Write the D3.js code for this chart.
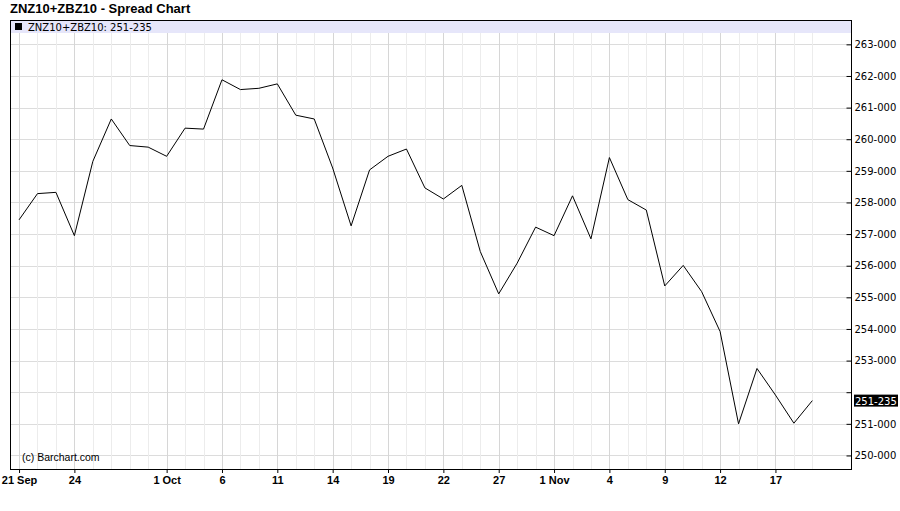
<!DOCTYPE html>
<html><head><meta charset="utf-8">
<script src="https://cdn.jsdelivr.net/npm/d3@7"></script>
<style>body{margin:0;background:#fff;}svg{display:block;}</style>
</head><body>
<svg id="chart" width="900" height="511"></svg>
<script>
const dates = ["2010-09-21","2010-09-22","2010-09-23","2010-09-24","2010-09-27","2010-09-28","2010-09-29","2010-09-30",
"2010-10-01","2010-10-04","2010-10-05","2010-10-06","2010-10-07","2010-10-08","2010-10-11","2010-10-12","2010-10-13",
"2010-10-14","2010-10-15","2010-10-18","2010-10-19","2010-10-20","2010-10-21","2010-10-22","2010-10-25","2010-10-26",
"2010-10-27","2010-10-28","2010-10-29","2010-11-01","2010-11-02","2010-11-03","2010-11-04","2010-11-05","2010-11-08",
"2010-11-09","2010-11-10","2010-11-11","2010-11-12","2010-11-15","2010-11-16","2010-11-17","2010-11-18","2010-11-19"];
const values = [257.45,258.28,258.32,256.95,259.30,260.64,259.80,259.75,259.46,260.35,260.32,261.88,261.57,261.61,261.75,
260.76,260.64,259.09,257.26,259.03,259.46,259.69,258.46,258.11,258.54,256.45,255.11,256.08,257.22,256.95,258.21,256.85,
259.42,258.09,257.76,255.36,256.01,255.18,253.92,251.00,252.75,251.91,251.02,251.734];
const tickDates = ["2010-09-21","2010-09-24","2010-10-01","2010-10-06","2010-10-11","2010-10-14","2010-10-19","2010-10-22",
"2010-10-27","2010-11-01","2010-11-04","2010-11-09","2010-11-12","2010-11-17"];
const tickLabels = ["21 Sep","24","1 Oct","6","11","14","19","22","27","1 Nov","4","9","12","17"];
const yTicks = [250,251,252,253,254,255,256,257,258,259,260,261,262,263];
const title = "ZNZ10+ZBZ10 - Spread Chart";
const seriesName = "ZNZ10+ZBZ10";
const lastLabel = "251-235";

const svg = d3.select("#chart");
const L = 10, R = 852, T = 20, B = 470, bandB = 33;
const x = d3.scaleLinear().domain([-0.49, 45.15]).range([L, R]);
const y = d3.scaleLinear().domain([249.54, 263.77]).range([B, T]);
const idx = dates.map((d,i)=>i);
const tickIdx = tickDates.map(d => dates.indexOf(d));

// title
svg.append("text").attr("x", 10).attr("y", 13).attr("font-family","Liberation Sans, Arial, sans-serif")
  .attr("font-weight","bold").attr("font-size", 13).attr("fill","#000").text(title);

// horizontal gridlines
svg.append("g").selectAll("line").data(yTicks).join("line")
  .attr("x1", L).attr("x2", R).attr("y1", d=>Math.round(y(d))+0.5).attr("y2", d=>Math.round(y(d))+0.5)
  .attr("stroke", "#dcdcdc").attr("stroke-width", 1);
// vertical gridlines
svg.append("g").selectAll("line").data(idx).join("line")
  .attr("x1", d=>Math.round(x(d))+0.5).attr("x2", d=>Math.round(x(d))+0.5).attr("y1", bandB).attr("y2", B)
  .attr("stroke", d=> tickIdx.includes(d) ? "#d6d6d6" : "#ececec").attr("stroke-width", 1);

// legend band
svg.append("rect").attr("x", L).attr("y", T).attr("width", R-L).attr("height", bandB-T).attr("fill", "#e6e6fa");
svg.append("rect").attr("x", 15).attr("y", 23).attr("width", 7).attr("height", 7).attr("fill", "#000");
svg.append("text").attr("x", 28).attr("y", 30.5).attr("font-family","DejaVu Sans, sans-serif")
  .attr("font-size", 10).attr("fill","#000").text(seriesName + ": " + lastLabel);

// watermark
svg.append("text").attr("x", 22).attr("y", 461).attr("font-family","Liberation Sans, Arial, sans-serif")
  .attr("font-size", 10.5).attr("fill","#000").text("(c) Barchart.com");

// line
const line = d3.line().x((d,i)=>x(i)).y(d=>y(d));
svg.append("path").datum(values).attr("d", line).attr("fill","none").attr("stroke","#000").attr("stroke-width",1);

// frame
svg.append("rect").attr("x", L+0.5).attr("y", T+0.5).attr("width", R-L-1).attr("height", B-T-1)
  .attr("fill","none").attr("stroke","#000").attr("stroke-width",1);

// right axis
const lastY = y(values[values.length-1]);
const yAxis = d3.axisRight(y).tickValues(yTicks).tickSize(0).tickFormat(d=>d+"-000");
const ya = svg.append("g").attr("transform", `translate(${R-0.5},0)`).call(yAxis);
ya.select(".domain").remove();
ya.selectAll(".tick text").attr("x", 3).attr("font-family","DejaVu Sans, sans-serif").attr("font-size",10).attr("fill","#000")
  .style("display", d => Math.abs(y(d)-lastY) < 10 ? "none" : null);
ya.selectAll(".tick").append("line").attr("x1",-5).attr("x2",0).attr("stroke","#000");
// last value label
svg.append("rect").attr("x", R+2).attr("y", lastY-6).attr("width", 44).attr("height", 12).attr("fill","#000");
svg.append("text").attr("x", R+3).attr("y", lastY+4).attr("font-family","DejaVu Sans, sans-serif")
  .attr("font-size",10).attr("fill","#fff").text(lastLabel);

// bottom axis
const xAxis = d3.axisBottom(x).tickValues(tickIdx).tickSize(3).tickFormat((d,i)=>tickLabels[i]);
const xa = svg.append("g").attr("transform", `translate(0,${B})`).call(xAxis);
xa.select(".domain").remove();
xa.selectAll(".tick line").attr("stroke","#000");
xa.selectAll(".tick text").attr("y", 14).attr("dy", 0).attr("font-family","Liberation Sans, Arial, sans-serif")
  .attr("font-weight","bold").attr("font-size",11).attr("fill","#000");
</script>
</body></html>
